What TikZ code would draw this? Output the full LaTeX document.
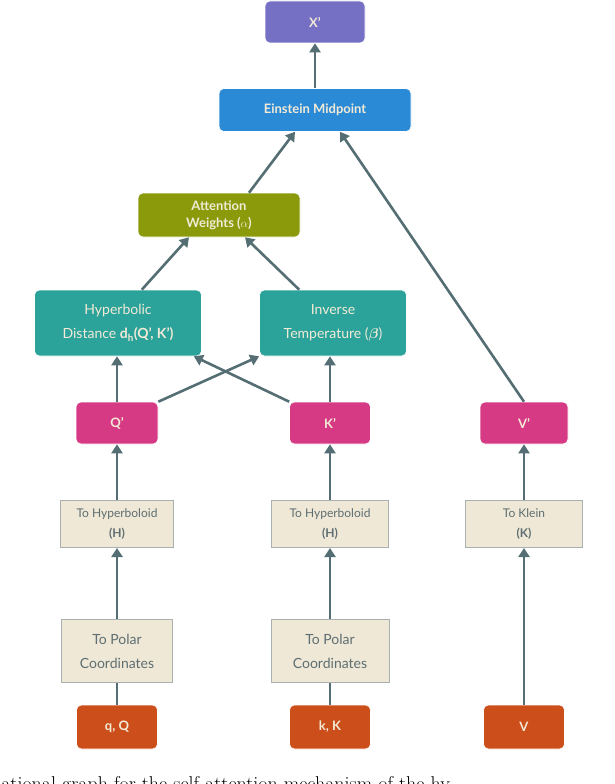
\documentclass[tikz,border=0pt]{standalone}
\usepackage{amsmath,amssymb,bm}
\usepackage{fontspec}
\setsansfont{Lato}
\usetikzlibrary{arrows.meta}
\definecolor{cream}{HTML}{F2EAD6}
\definecolor{purp}{HTML}{7570C4}
\definecolor{blu}{HTML}{2A8AD6}
\definecolor{oliv}{HTML}{8A9A0A}
\definecolor{teal2}{HTML}{2BA39A}
\definecolor{pnk}{HTML}{D63A84}
\definecolor{orng}{HTML}{CC4E1A}
\definecolor{beig}{HTML}{EFE8D6}
\definecolor{bbord}{HTML}{A8B0B0}
\definecolor{arr}{HTML}{546E73}
\definecolor{btext}{HTML}{5E6E72}
\begin{document}
\begin{tikzpicture}[x=1pt,y=-1pt,
  box/.style={rounded corners=5pt,draw=white,line width=0.6pt,text=cream,font=\sffamily\bfseries\fontsize{13}{17}\selectfont,align=center,inner sep=0pt},
  tealbox/.style={box,fill=teal2,font=\sffamily\fontsize{14}{24}\selectfont,minimum width=167pt,minimum height=66pt},
  beige/.style={draw=bbord,line width=1pt,fill=beig,text=btext,align=center,inner sep=0pt,font=\sffamily\fontsize{12}{20}\selectfont},
  ar/.style={draw=arr,line width=2.6pt,-{Triangle[length=9pt,width=11pt]}},
  ln/.style={draw=arr,line width=2.6pt}]
\useasboundingbox (0,0) rectangle (614,784);
\node[box,fill=purp,minimum width=100pt,minimum height=42pt] (x) at (315,22) {X’};
\node[box,fill=blu,minimum width=192pt,minimum height=43pt] (em) at (315,110) {Einstein Midpoint};
\node[box,fill=oliv,minimum width=162pt,minimum height=44pt] (att) at (219,215) {Attention\\Weights ($\alpha$)};
\node[tealbox] (hd) at (118,323) {Hyperbolic\\Distance \textbf{d\textsubscript{h}(Q’, K’)}};
\node[tealbox,minimum width=147pt] (it) at (333,323) {Inverse\\Temperature ($\bm{\beta}$)};
\node[box,fill=pnk,minimum width=82pt,minimum height=42pt] (qp) at (117,423) {Q’};
\node[box,fill=pnk,minimum width=81pt,minimum height=42pt] (kp) at (330,423) {K’};
\node[box,fill=pnk,minimum width=88pt,minimum height=42pt] (vp) at (524,423) {V’};
\node[beige,minimum width=113pt,minimum height=47pt] (h1) at (117,524) {To Hyperboloid\\\textbf{(H)}};
\node[beige,minimum width=117pt,minimum height=47pt] (h2) at (330,524) {To Hyperboloid\\\textbf{(H)}};
\node[beige,minimum width=117pt,minimum height=47pt] (kl) at (524,524) {To Klein\\\textbf{(K)}};
\node[beige,minimum width=111pt,minimum height=63pt,font=\sffamily\fontsize{14}{24}\selectfont] (p1) at (117,651) {To Polar\\Coordinates};
\node[beige,minimum width=118pt,minimum height=63pt,font=\sffamily\fontsize{14}{24}\selectfont] (p2) at (330,651) {To Polar\\Coordinates};
\node[box,fill=orng,minimum width=81pt,minimum height=44pt] (qq) at (117,727) {q, Q};
\node[box,fill=orng,minimum width=81pt,minimum height=44pt] (kk) at (330,727) {k, K};
\node[box,fill=orng,minimum width=81pt,minimum height=44pt] (vv) at (524,727) {V};
\node[anchor=base west,inner sep=0pt,font=\rmfamily\fontsize{20}{24}\selectfont] (cap) at (-6,790) {tational graph for the self-attention mechanism of the hy};
% connectors
\draw[ln] (qq.north) -- (p1.south);
\draw[ln] (kk.north) -- (p2.south);
\draw[ar] (p1.north) -- (h1.south);
\draw[ar] (p2.north) -- (h2.south);
\draw[ar] (vv.north) -- (kl.south);
\draw[ar] (h1.north) -- (qp.south);
\draw[ar] (h2.north) -- (kp.south);
\draw[ar] (kl.north) -- (vp.south);
\draw[ar] (qp.north) -- (hd.south -| qp);
\draw[ar] (kp.north) -- (it.south -| kp);
\draw[ar] (qp.north east) -- (it.south west);
\draw[ar] (kp.north west) -- ([xshift=-8pt]hd.south east);
\draw[ar] ([xshift=-60pt]hd.north east) -- ([xshift=-30pt]att.south);
\draw[ar] ([xshift=40pt]it.north west) -- ([xshift=26pt]att.south);
\draw[ar] ([xshift=30pt]att.north) -- ([xshift=-20pt]em.south);
\draw[ar] (vp.north) -- ([xshift=25pt]em.south);
\draw[ar] (em.north) -- (x.south);
\end{tikzpicture}
\end{document}
